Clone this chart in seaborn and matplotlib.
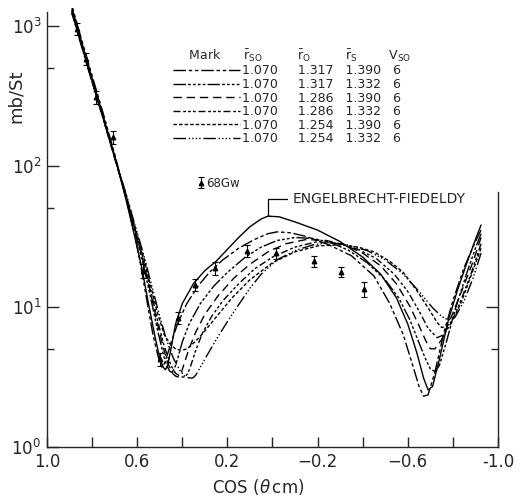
import numpy as np
import pandas as pd
import matplotlib
matplotlib.use("Agg")
import matplotlib.pyplot as plt
from matplotlib.lines import Line2D
from matplotlib.ticker import NullFormatter
import seaborn as sns

# calculated curves, cos(theta cm) vs mb/sr
ef_cos = [0.89, 0.85, 0.80, 0.75, 0.70, 0.65, 0.61, 0.58, 0.55, 0.52, 0.50, 0.485, 0.475, 0.465, 0.45,
          0.43, 0.40, 0.35, 0.30, 0.25, 0.20, 0.15, 0.10, 0.05, 0.02, -0.03, -0.10, -0.20, -0.30, -0.40,
          -0.48, -0.55, -0.60, -0.64, -0.67, -0.69, -0.71, -0.74, -0.78, -0.82, -0.86, -0.90, -0.925]
ef_xs = [1350, 800, 420, 225, 118, 58, 31, 19, 10.5, 6.0, 4.3, 3.7, 3.55, 3.8, 5.0,
         7.5, 10.5, 14.6, 18.0, 21.0, 25.5, 31, 37, 42, 44, 43.5, 40, 35, 29, 22.5,
         17, 11.5, 7.5, 4.7, 3.1, 2.55, 2.7, 4.2, 8.0, 13, 20, 30, 38]

a_cos = [0.89, 0.85, 0.80, 0.75, 0.70, 0.65, 0.61, 0.58, 0.55, 0.53, 0.51, 0.50, 0.49, 0.48, 0.465,
         0.45, 0.42, 0.38, 0.33, 0.28, 0.22, 0.15, 0.08, 0.02, -0.02, -0.08, -0.15, -0.25, -0.35, -0.45,
         -0.52, -0.58, -0.62, -0.65, -0.67, -0.69, -0.72, -0.76, -0.80, -0.85, -0.90, -0.925]
a_xs = [1400, 830, 440, 235, 122, 60, 32, 18, 9.5, 6.3, 4.6, 4.0, 3.7, 3.9, 4.6,
        5.5, 7.6, 10.5, 14, 17.5, 21.5, 26, 30, 33, 34, 33.5, 31.5, 27.5, 23, 16.5,
        10.5, 6.3, 3.9, 2.7, 2.3, 2.35, 3.4, 6.5, 11, 19, 29, 35]

b_cos = [0.89, 0.85, 0.80, 0.75, 0.70, 0.65, 0.61, 0.57, 0.54, 0.51, 0.48, 0.465, 0.455, 0.446, 0.435,
         0.42, 0.40, 0.37, 0.32, 0.26, 0.20, 0.12, 0.05, -0.02, -0.10, -0.18, -0.26, -0.34, -0.42, -0.50,
         -0.56, -0.61, -0.65, -0.68, -0.70, -0.72, -0.74, -0.77, -0.81, -0.86, -0.90, -0.925]
b_xs = [1300, 780, 410, 220, 116, 60, 34, 19, 11.5, 6.8, 4.3, 3.7, 3.45, 3.4, 3.6,
        4.3, 5.6, 7.5, 10.5, 14, 17.5, 22.5, 26.5, 29.5, 31, 30.5, 28.5, 25, 20.5, 15.5,
        11.5, 8, 5.5, 4.2, 3.6, 3.45, 3.8, 5.5, 9.5, 17, 26, 33]

c_cos = [0.89, 0.85, 0.80, 0.75, 0.70, 0.65, 0.61, 0.57, 0.54, 0.51, 0.48, 0.46, 0.44, 0.43, 0.419,
         0.405, 0.39, 0.37, 0.34, 0.30, 0.24, 0.17, 0.10, 0.02, -0.06, -0.15, -0.24, -0.32, -0.40, -0.48,
         -0.55, -0.61, -0.65, -0.68, -0.70, -0.72, -0.75, -0.79, -0.84, -0.89, -0.925]
c_xs = [1280, 770, 405, 218, 115, 61, 35, 20, 12.5, 7.5, 4.8, 3.8, 3.3, 3.2, 3.15,
        3.35, 4.0, 5.0, 6.6, 8.8, 12, 16, 20, 24.5, 28, 30, 29.5, 27.5, 24, 19.5,
        14.5, 10, 7.3, 5.7, 5.0, 5.0, 5.8, 8.2, 13, 21, 31]

d_cos = [0.89, 0.85, 0.80, 0.75, 0.70, 0.65, 0.61, 0.57, 0.54, 0.51, 0.48, 0.45, 0.43, 0.41, 0.40,
         0.388, 0.375, 0.36, 0.34, 0.31, 0.27, 0.22, 0.15, 0.08, 0.0, -0.10, -0.20, -0.30, -0.38, -0.46,
         -0.54, -0.60, -0.65, -0.69, -0.73, -0.76, -0.79, -0.83, -0.88, -0.925]
d_xs = [1260, 760, 400, 216, 114, 62, 36, 21, 13, 8, 5.2, 3.8, 3.35, 3.2, 3.15,
        3.15, 3.35, 3.9, 4.9, 6.5, 8.5, 11, 14.5, 18.5, 22.5, 26.5, 29, 28, 25.5, 22,
        17, 12.8, 9.3, 7.0, 6.0, 6.3, 7.5, 10.5, 17, 28]

e_cos = [0.89, 0.85, 0.80, 0.75, 0.70, 0.65, 0.61, 0.57, 0.54, 0.51, 0.48, 0.45, 0.43, 0.41, 0.397,
         0.38, 0.36, 0.33, 0.30, 0.25, 0.18, 0.10, 0.0, -0.10, -0.20, -0.30, -0.38, -0.45, -0.52, -0.58,
         -0.64, -0.69, -0.73, -0.75, -0.77, -0.80, -0.84, -0.88, -0.925]
e_xs = [1240, 750, 398, 215, 115, 63, 37, 22, 14, 9, 6.3, 5.3, 5.0, 4.9, 4.9,
        5.0, 5.3, 5.9, 6.7, 8.4, 11.5, 15.5, 20.5, 24.5, 27, 27.5, 26.5, 24.5, 21, 17.5,
        13, 9.8, 7.7, 7.1, 7.2, 8.0, 11, 16.5, 26]

f_cos = [0.89, 0.85, 0.80, 0.75, 0.70, 0.65, 0.61, 0.57, 0.53, 0.50, 0.47, 0.44, 0.41, 0.39, 0.37,
         0.353, 0.34, 0.32, 0.29, 0.25, 0.20, 0.15, 0.10, 0.05, -0.02, -0.10, -0.18, -0.25, -0.33, -0.42,
         -0.50, -0.58, -0.65, -0.71, -0.75, -0.78, -0.81, -0.85, -0.89, -0.925]
f_xs = [1230, 740, 395, 214, 116, 64, 38, 23, 13, 8.5, 5.8, 4.3, 3.5, 3.2, 3.1,
        3.1, 3.25, 3.7, 4.5, 5.8, 7.8, 10.3, 13.5, 17, 21.5, 25, 27.5, 28.5, 27.5, 25,
        21.5, 17, 12.8, 9.8, 8.5, 8.0, 8.4, 11, 16, 24]

# measured points (68Gw)
data_cos = [0.867, 0.827, 0.783, 0.707, 0.574, 0.499, 0.419, 0.344, 0.255, 0.113, -0.016, -0.184, -0.304, -0.406]
data_xs = [950, 580, 310, 160, 18.0, 4.2, 8.3, 14.2, 18.8, 24.8, 24.0, 21.0, 17.6, 13.3]
data_err = [100, 60, 32, 17, 2.0, 0.45, 0.8, 1.4, 1.9, 2.4, 2.3, 2.0, 1.5, 1.6]

# parameter table
r_so = ["1.070", "1.070", "1.070", "1.070", "1.070", "1.070"]
r_0 = ["1.317", "1.317", "1.286", "1.286", "1.254", "1.254"]
r_s = ["1.390", "1.332", "1.390", "1.332", "1.390", "1.332"]
v_so = ["6", "6", "6", "6", "6", "6"]

x_ticks = [1.0, 0.8, 0.6, 0.4, 0.2, 0.0, -0.2, -0.4, -0.6, -0.8, -1.0]
x_ticklabels = ["1.0", "", "0.6", "", "0.2", "", "\u22120.2", "", "\u22120.6", "", "-1.0"]

curves = {"EF": (ef_cos, ef_xs), "a": (a_cos, a_xs), "b": (b_cos, b_xs), "c": (c_cos, c_xs),
          "d": (d_cos, d_xs), "e": (e_cos, e_xs), "f": (f_cos, f_xs)}
dash_map = {"EF": "",
            "a": (9, 2, 2.5, 2, 2.5, 2),
            "b": (9, 1.5, 2, 1.5, 2, 1.5, 2, 1.5, 2, 1.5),
            "c": (6, 3.5),
            "d": (5, 2, 2, 1.5, 2, 1.5, 2, 2),
            "e": (2.5, 1.5),
            "f": (9, 2, 1, 1.5, 1, 1.5, 1, 1.5, 1, 2)}

df = pd.concat([pd.DataFrame({"cos": c, "xs": y, "curve": k}) for k, (c, y) in curves.items()],
               ignore_index=True)

sns.set_style("ticks")
plt.rcParams["font.family"] = ["DejaVu Sans"]
plt.rcParams["axes.linewidth"] = 1.0

fig = plt.figure(figsize=(5.21, 4.96), dpi=100)
ax = fig.add_axes([0.0902, 0.0988, 0.8656, 0.885])
ax.set_yscale("log")

sns.lineplot(data=df, x="cos", y="xs", style="curve", dashes=dash_map, color="black",
             linewidth=1.0, estimator=None, sort=True, legend=False, ax=ax)

eb = ax.errorbar(data_cos, data_xs, yerr=data_err, fmt="^", color="black", ms=3.2,
                 capsize=2.5, elinewidth=0.8, capthick=0.8, zorder=3, label="68Gw")

ax.set_xlim(1.0, -1.0)
ax.set_ylim(1, 1333)
ax.set_xticks(x_ticks)
ax.set_xticklabels(x_ticklabels)
ax.set_yticks([1, 10, 100, 1000])
ax.set_yticks([5, 50, 500], minor=True)
ax.yaxis.set_minor_formatter(NullFormatter())
ax.tick_params(axis="x", direction="in", length=7, width=1.0, labelsize=12, pad=4.5)
ax.tick_params(axis="y", which="major", direction="in", length=8.5, width=1.0, labelsize=12, pad=4)
ax.tick_params(axis="y", which="minor", direction="in", length=5, width=1.0)
ax.spines["top"].set_visible(False)
ax.spines["right"].set_visible(False)
ax.spines["left"].set_bounds(1, 1240)

ax.set_xlabel(r"COS ($\theta\,$cm)", fontsize=12)
ax.xaxis.set_label_coords(0.468, -0.068)
ax.set_ylabel("mb/St", fontsize=13)
ax.yaxis.set_label_coords(-0.05, 0.80)

# parameter table as legend
header = ("    Mark      $\\bar{\\mathrm{r}}_{\\mathrm{SO}}$         $\\bar{\\mathrm{r}}_{\\mathrm{O}}$"
          "         $\\bar{\\mathrm{r}}_{\\mathrm{S}}$        V$_{\\mathrm{SO}}$")
handles = [Line2D([], [], color="black", lw=1.0, linestyle=(0, dash_map[k])) for k in "abcdef"]
labels = [f"{a}     {b}   {c}   {d}" for a, b, c, d in zip(r_so, r_0, r_s, v_so)]
leg = ax.legend(handles, labels, loc="upper left", bbox_to_anchor=(0.279, 0.911), frameon=False,
                fontsize=9, handlelength=5.4, handletextpad=0.1, labelspacing=0.05, borderpad=0,
                borderaxespad=0, title=header, title_fontsize=9, alignment="left")
ax.add_artist(leg)
ax.legend([eb], ["68Gw"], loc="center left", bbox_to_anchor=(0.333, 0.601), frameon=False,
          fontsize=8.5, handlelength=0.6, handletextpad=0.2, borderpad=0, borderaxespad=0)

# bracket to the maximum of the EF curve in the backward hump
mid = [k for k in range(len(ef_cos)) if ef_cos[k] < 0.3]
i = max(mid, key=lambda k: ef_xs[k])
ax.annotate("ENGELBRECHT-FIEDELDY", xy=(ef_cos[i], ef_xs[i]), xytext=(-0.09, 58),
            xycoords="data", textcoords="data", annotation_clip=False,
            ha="left", va="center", fontsize=10, zorder=6,
            arrowprops=dict(arrowstyle="-", color="black", lw=0.9, shrinkA=2, shrinkB=0,
                            connectionstyle="angle,angleA=180,angleB=90,rad=0", relpos=(0, 0.5)))

# short right-hand frame with its own ticks
axr = ax.twinx()
axr.set_yscale("log")
axr.set_ylim(ax.get_ylim())
axr.set_yticks([10])
axr.set_yticks([5], minor=True)
axr.yaxis.set_major_formatter(NullFormatter())
axr.yaxis.set_minor_formatter(NullFormatter())
axr.tick_params(axis="y", which="major", direction="in", length=8.5, width=1.0)
axr.tick_params(axis="y", which="minor", direction="in", length=5, width=1.0)
for s in ["top", "left", "bottom"]:
    axr.spines[s].set_visible(False)
axr.spines["right"].set_bounds(1, 65)

fig.savefig("out.png", dpi=100)
